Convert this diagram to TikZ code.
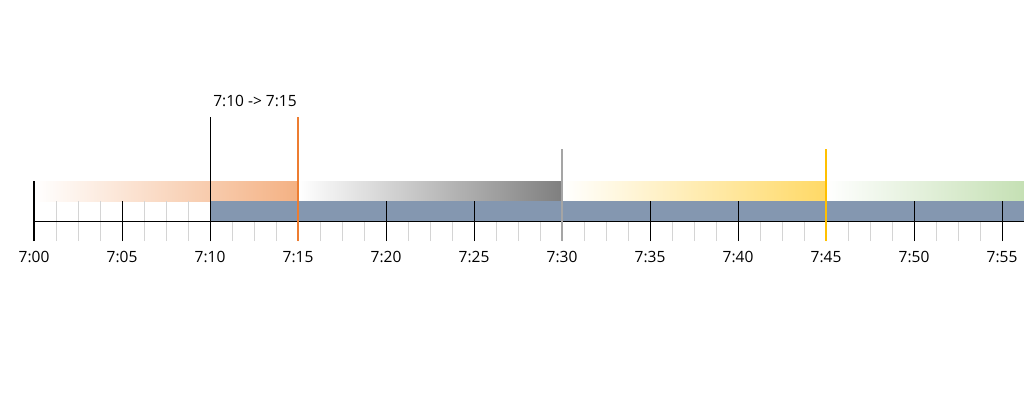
\documentclass[tikz,border=0pt]{standalone}
\usepackage{fontspec}
\setmainfont{Open Sans}
\definecolor{orangeend}{HTML}{F4B183}
\definecolor{grayend}{HTML}{7F7F7F}
\definecolor{yellowend}{HTML}{FFD966}
\definecolor{greenend}{HTML}{C5E0B4}
\definecolor{busyband}{HTML}{8497B0}
\definecolor{orangemark}{HTML}{ED7D31}
\definecolor{graymark}{HTML}{A5A5A5}
\definecolor{yellowmark}{HTML}{FFC000}
\newcommand{\tlabel}[1]{\fontsize{15.5}{18}\selectfont #1}

\begin{document}
\begin{tikzpicture}[x=17.6pt,y=1pt]
                        \tikzstyle{minortick}=[draw=black!17, line width=1pt]
                        \tikzstyle{majortick}=[draw=black, line width=1pt]
                        \tikzstyle{marker}=[line width=2pt]
                        \tikzstyle{timelabel}=[anchor=base, inner sep=0pt, font=\tlabel]
                        \useasboundingbox (-1.932,0) rectangle (56.25,400);
                        % phases
                        \shade[left color=white, right color=orangeend] (0,199) rectangle (15,219);
                        \shade[left color=white, right color=grayend] (15,199) rectangle (30,219);
                        \shade[left color=white, right color=yellowend] (30,199) rectangle (45,219);
                        \shade[left color=white, right color=greenend] (45,199) rectangle (56.25,219);
                        % quarter ticks
                        \foreach \q in {1,...,45} {
                            \coordinate (q\q) at (1.25*\q,159);
                            \draw[minortick] (q\q) -- ++(0,40);
                        }
                        \fill[busyband] (10,179) rectangle (56.25,199);
                        % axis
                        \coordinate (axisstart) at (0,179);
                        \coordinate (axisend) at (56.25,179);
                        \draw[black, line width=1pt] (axisstart) -- (axisend);
                        \foreach \m/\t in {5/7:05,10/7:10,15/7:15,20/7:20,25/7:25,30/7:30,35/7:35,40/7:40,45/7:45,50/7:50,55/7:55} {
                            \coordinate (t\m) at (\m,159);
                            \draw[majortick] (t\m) -- ++(0,40);
                            \node[timelabel] (l\m) at (\m,138) {\t};
                        }
                        \node[timelabel] (l0) at (0,138) {7:00};
                        % markers
                        \coordinate (t0) at (0,159);
                        \coordinate (start) at (0,219);
                        \draw[black, line width=2pt] (t0) -- (start);
                        \coordinate (planned) at (10,283);
                        \draw[majortick] (t10) -- (planned);
                        \coordinate (actual) at (15,283);
                        \draw[marker, orangemark] (t15) -- (actual);
                        \coordinate (half) at (30,251);
                        \draw[marker, graymark] (t30) -- (half);
                        \coordinate (late) at (45,251);
                        \draw[marker, yellowmark] (t45) -- (late);
                        \node[anchor=base west, inner sep=0pt, font=\tlabel] (shift) at (10.18,294) {7:10 -> 7:15};
                    \end{tikzpicture}
\end{document}
